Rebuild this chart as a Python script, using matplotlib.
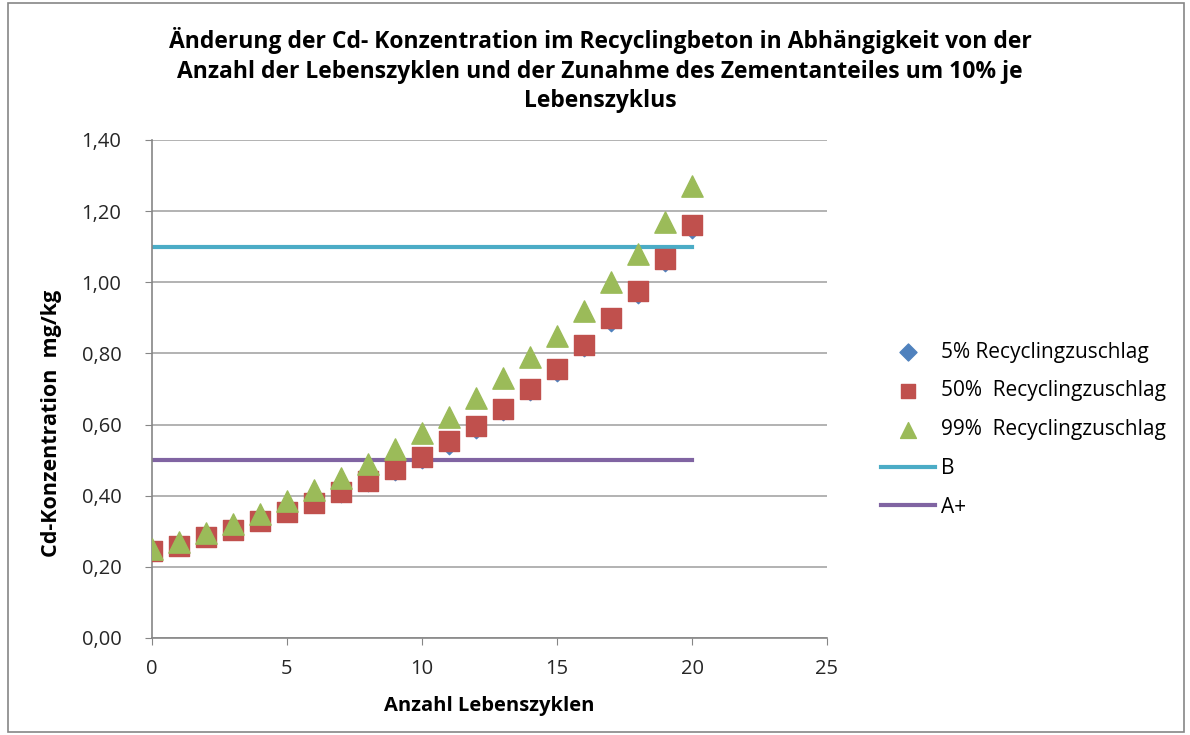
import matplotlib
matplotlib.use('Agg')
import matplotlib.pyplot as plt
from matplotlib.patches import Rectangle

plt.rcParams['font.family'] = ['Open Sans', 'DejaVu Sans']

zyklen = list(range(21))
rc_5 = [0.245, 0.255, 0.28, 0.30, 0.32, 0.345, 0.37, 0.40, 0.43, 0.46, 0.495,
        0.535, 0.58, 0.63, 0.685, 0.74, 0.81, 0.88, 0.96, 1.05, 1.14]
rc_50 = [0.245, 0.26, 0.285, 0.305, 0.33, 0.355, 0.38, 0.41, 0.44, 0.475, 0.51,
         0.555, 0.595, 0.645, 0.70, 0.755, 0.825, 0.90, 0.975, 1.065, 1.16]
rc_99 = [0.25, 0.27, 0.295, 0.32, 0.35, 0.385, 0.415, 0.45, 0.49, 0.53, 0.575,
         0.62, 0.675, 0.73, 0.79, 0.85, 0.92, 1.00, 1.08, 1.17, 1.27]
grenze_b = 1.10
grenze_a = 0.50

fig = plt.figure(figsize=(11.9, 7.35), dpi=100)
ax = fig.add_axes([152/1190, 1 - 638/735, 675/1190, 498/735])

ax.scatter(zyklen, rc_5, marker='D', s=40, color='#4F81BD', zorder=3,
           label='5% Recyclingzuschlag')
ax.scatter(zyklen, rc_50, marker='s', s=205, color='#C0504D', zorder=4,
           label='50%  Recyclingzuschlag')
ax.scatter(zyklen, rc_99, marker='^', s=235, color='#9BBB59', zorder=5,
           label='99%  Recyclingzuschlag')
ax.plot([zyklen[0], zyklen[-1]], [grenze_b, grenze_b], color='#4BACC6', lw=3,
        zorder=2, label='B')
ax.plot([zyklen[0], zyklen[-1]], [grenze_a, grenze_a], color='#8064A2', lw=3,
        zorder=2, label='A+')

ax.set_xlim(0, 25)
ax.set_ylim(0, 1.4)
ax.set_xticks([0, 5, 10, 15, 20, 25])
yt = [0, 0.2, 0.4, 0.6, 0.8, 1.0, 1.2, 1.4]
ax.set_yticks(yt)
ax.set_yticklabels([f'{v:.2f}'.replace('.', ',') for v in yt])
ax.tick_params(labelsize=14.5, length=5, color='#868686', colors='#262626')
ax.tick_params(axis='y', pad=17)
ax.tick_params(axis='x', pad=10)
ax.grid(axis='y', color='#a6a6a6', lw=1.2)
ax.set_axisbelow(True)
for s in ['top', 'right']:
    ax.spines[s].set_visible(False)
for s in ['left', 'bottom']:
    ax.spines[s].set_color('#868686')
    ax.spines[s].set_linewidth(1.2)

ax.set_xlabel('Anzahl Lebenszyklen', fontsize=14.5, fontweight='bold', labelpad=12)
ax.set_ylabel('Cd-Konzentration  mg/kg', fontsize=15.5, fontweight='bold')
ax.yaxis.set_label_coords(-0.133, 0.43)

fig.text(600/1190, 1 - 70/735,
         'Änderung der Cd- Konzentration im Recyclingbeton in Abhängigkeit von der\n'
         'Anzahl der Lebenszyklen und der Zunahme des Zementanteiles um 10% je\n'
         'Lebenszyklus',
         ha='center', va='center', fontsize=16.5, fontweight='bold', linespacing=1.32)

leg = ax.legend(loc='upper left', bbox_to_anchor=(862/1190, 1 - 323/735),
                bbox_transform=fig.transFigure, frameon=False, fontsize=15,
                labelspacing=0.85, handlelength=2.6, handletextpad=0.3)
for h, sz in zip(leg.legend_handles[:3], [75, 110, 130]):
    h.set_sizes([sz])

fig.patches.append(Rectangle((8/1190, 3/735), 1176/1190, 729/735,
                             transform=fig.transFigure, fill=False,
                             edgecolor='#868686', lw=1.2))

fig.savefig('out.png', dpi=100)
